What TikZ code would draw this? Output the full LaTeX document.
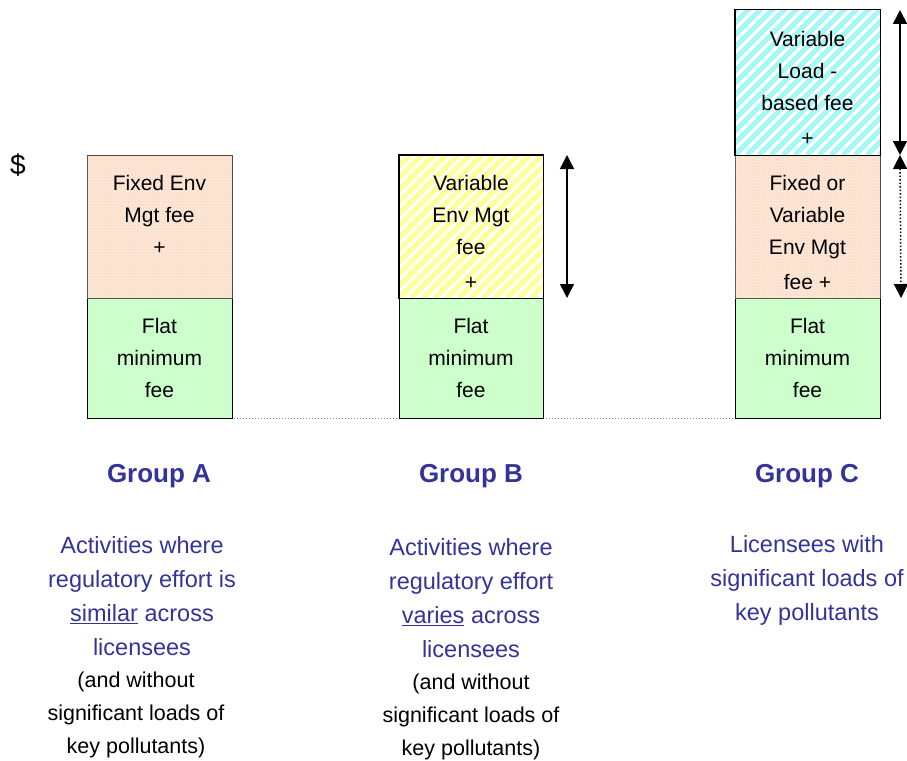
\documentclass[tikz,border=0pt]{standalone}
\usepackage{fontspec}
\setmainfont{Liberation Sans}
\usetikzlibrary{arrows.meta,patterns}
\definecolor{grp}{HTML}{333399}
\definecolor{greenfill}{HTML}{CCFFCC}
\definecolor{peach}{HTML}{FCE6D6}
\definecolor{peachdot}{HTML}{F7BE96}
\definecolor{yel}{HTML}{FFFF99}
\definecolor{cya}{HTML}{A6F7F7}
\begin{document}
\begin{tikzpicture}[x=1pt,y=-1pt,
  box/.style={draw=black,line width=1pt,inner sep=0pt,rectangle},
  flatbox/.style={box,fill=greenfill},
  dotbox/.style={box,draw=black!70,fill=peach,postaction={pattern=dots,pattern color=peachdot}},
  stripebox/.style={box,fill=white,path picture={
      \foreach \k in {-312,-300,...,312}
        \draw[line width=5pt,#1] ([xshift=\k pt]path picture bounding box.south west) -- ++(320,-320);}},
  boxtext/.style={align=center,font=\fontsize{21}{32}\selectfont,inner sep=0pt},
  grouplabel/.style={anchor=base,font=\fontsize{26}{30}\selectfont\bfseries,text=grp,inner sep=0pt},
  desc/.style={align=center,font=\fontsize{23.5}{34}\selectfont,text=grp,inner sep=0pt},
  note/.style={align=center,font=\fontsize{21.5}{33}\selectfont,text=black,inner sep=0pt},
  dblarrow/.style={line width=1.5pt,{Triangle[width=14pt,length=14pt]}-{Triangle[width=14pt,length=14pt]}},
]
\useasboundingbox (0,0) rectangle (907,760);

% base line
\coordinate (baseL) at (87,418);
\coordinate (baseR) at (880,418);
\draw[gray,dotted,line width=1pt] (baseL) -- (baseR);

% dollar sign
\node[font=\fontsize{28}{32}\selectfont,inner sep=0pt] (dollar) at (18,165) {\$};

% Group A
\node[flatbox,minimum width=145,minimum height=120] (agreen) at (159.5,358) {};
\node[dotbox,minimum width=145,minimum height=143] (aorange) at (159.5,226.5) {};
\node[boxtext] (atop) at (159.5,215) {Fixed Env\\Mgt fee\\+};
\node[boxtext] (abot) at (159.5,358) {Flat\\minimum\\fee};

% Group B
\node[flatbox,minimum width=144,minimum height=120] (bgreen) at (471,358) {};
\node[stripebox=yel,minimum width=144,minimum height=143] (byel) at (471,226.5) {};
\draw[black,line width=1pt] (byel.south west) rectangle (byel.north east);
\node[boxtext] (btop) at (471,232) {Variable\\Env Mgt\\fee\\[3pt]+};
\node[boxtext] (bbot) at (471,358) {Flat\\minimum\\fee};
\coordinate (barT) at (567,155);
\coordinate (barB) at (567,298);
\draw[dblarrow] (barT) -- (barB);

% Group C
\node[flatbox,minimum width=145,minimum height=120] (cgreen) at (807.5,358) {};
\node[dotbox,minimum width=145,minimum height=143] (corange) at (807.5,226.5) {};
\node[stripebox=cya,minimum width=145,minimum height=145] (ccyan) at (807.5,82.5) {};
\draw[black,line width=1pt] (ccyan.south west) rectangle (ccyan.north east);
\node[boxtext] (ctop) at (807.5,88) {Variable\\Load -\\based fee\\[3pt]+};
\begin{scope}
  \clip (735,155) rectangle (880,289);
  \node[boxtext] (cmid) at (807.5,232) {Fixed or\\Variable\\Env Mgt\\[3pt]fee +};
\end{scope}
\node[boxtext] (cbot) at (807.5,358) {Flat\\minimum\\fee};
\coordinate (carT) at (900,10);
\coordinate (carM) at (900,155);
\coordinate (carB) at (901,298);
\draw[dblarrow] (carT) -- (carM);
\draw[dblarrow,dotted] (carM) -- (carB);

% Labels
\node[grouplabel] (ga) at (159,482) {Group A};
\node[grouplabel] (gb) at (471,482) {Group B};
\node[grouplabel] (gc) at (807,482) {Group C};

\node[desc] (da) at (142,596) {Activities where\\regulatory effort is\\\underline{similar} across\\licensees};
\node[note] (na) at (136,715) {(and without\\significant loads of\\key pollutants)};

\node[desc] (db) at (471,598) {Activities where\\regulatory effort\\\underline{varies} across\\licensees};
\node[note] (nb) at (471,717) {(and without\\significant loads of\\key pollutants)};

\node[desc] (dc) at (807,580) {Licensees with\\significant loads of\\key pollutants};
\end{tikzpicture}
\end{document}
